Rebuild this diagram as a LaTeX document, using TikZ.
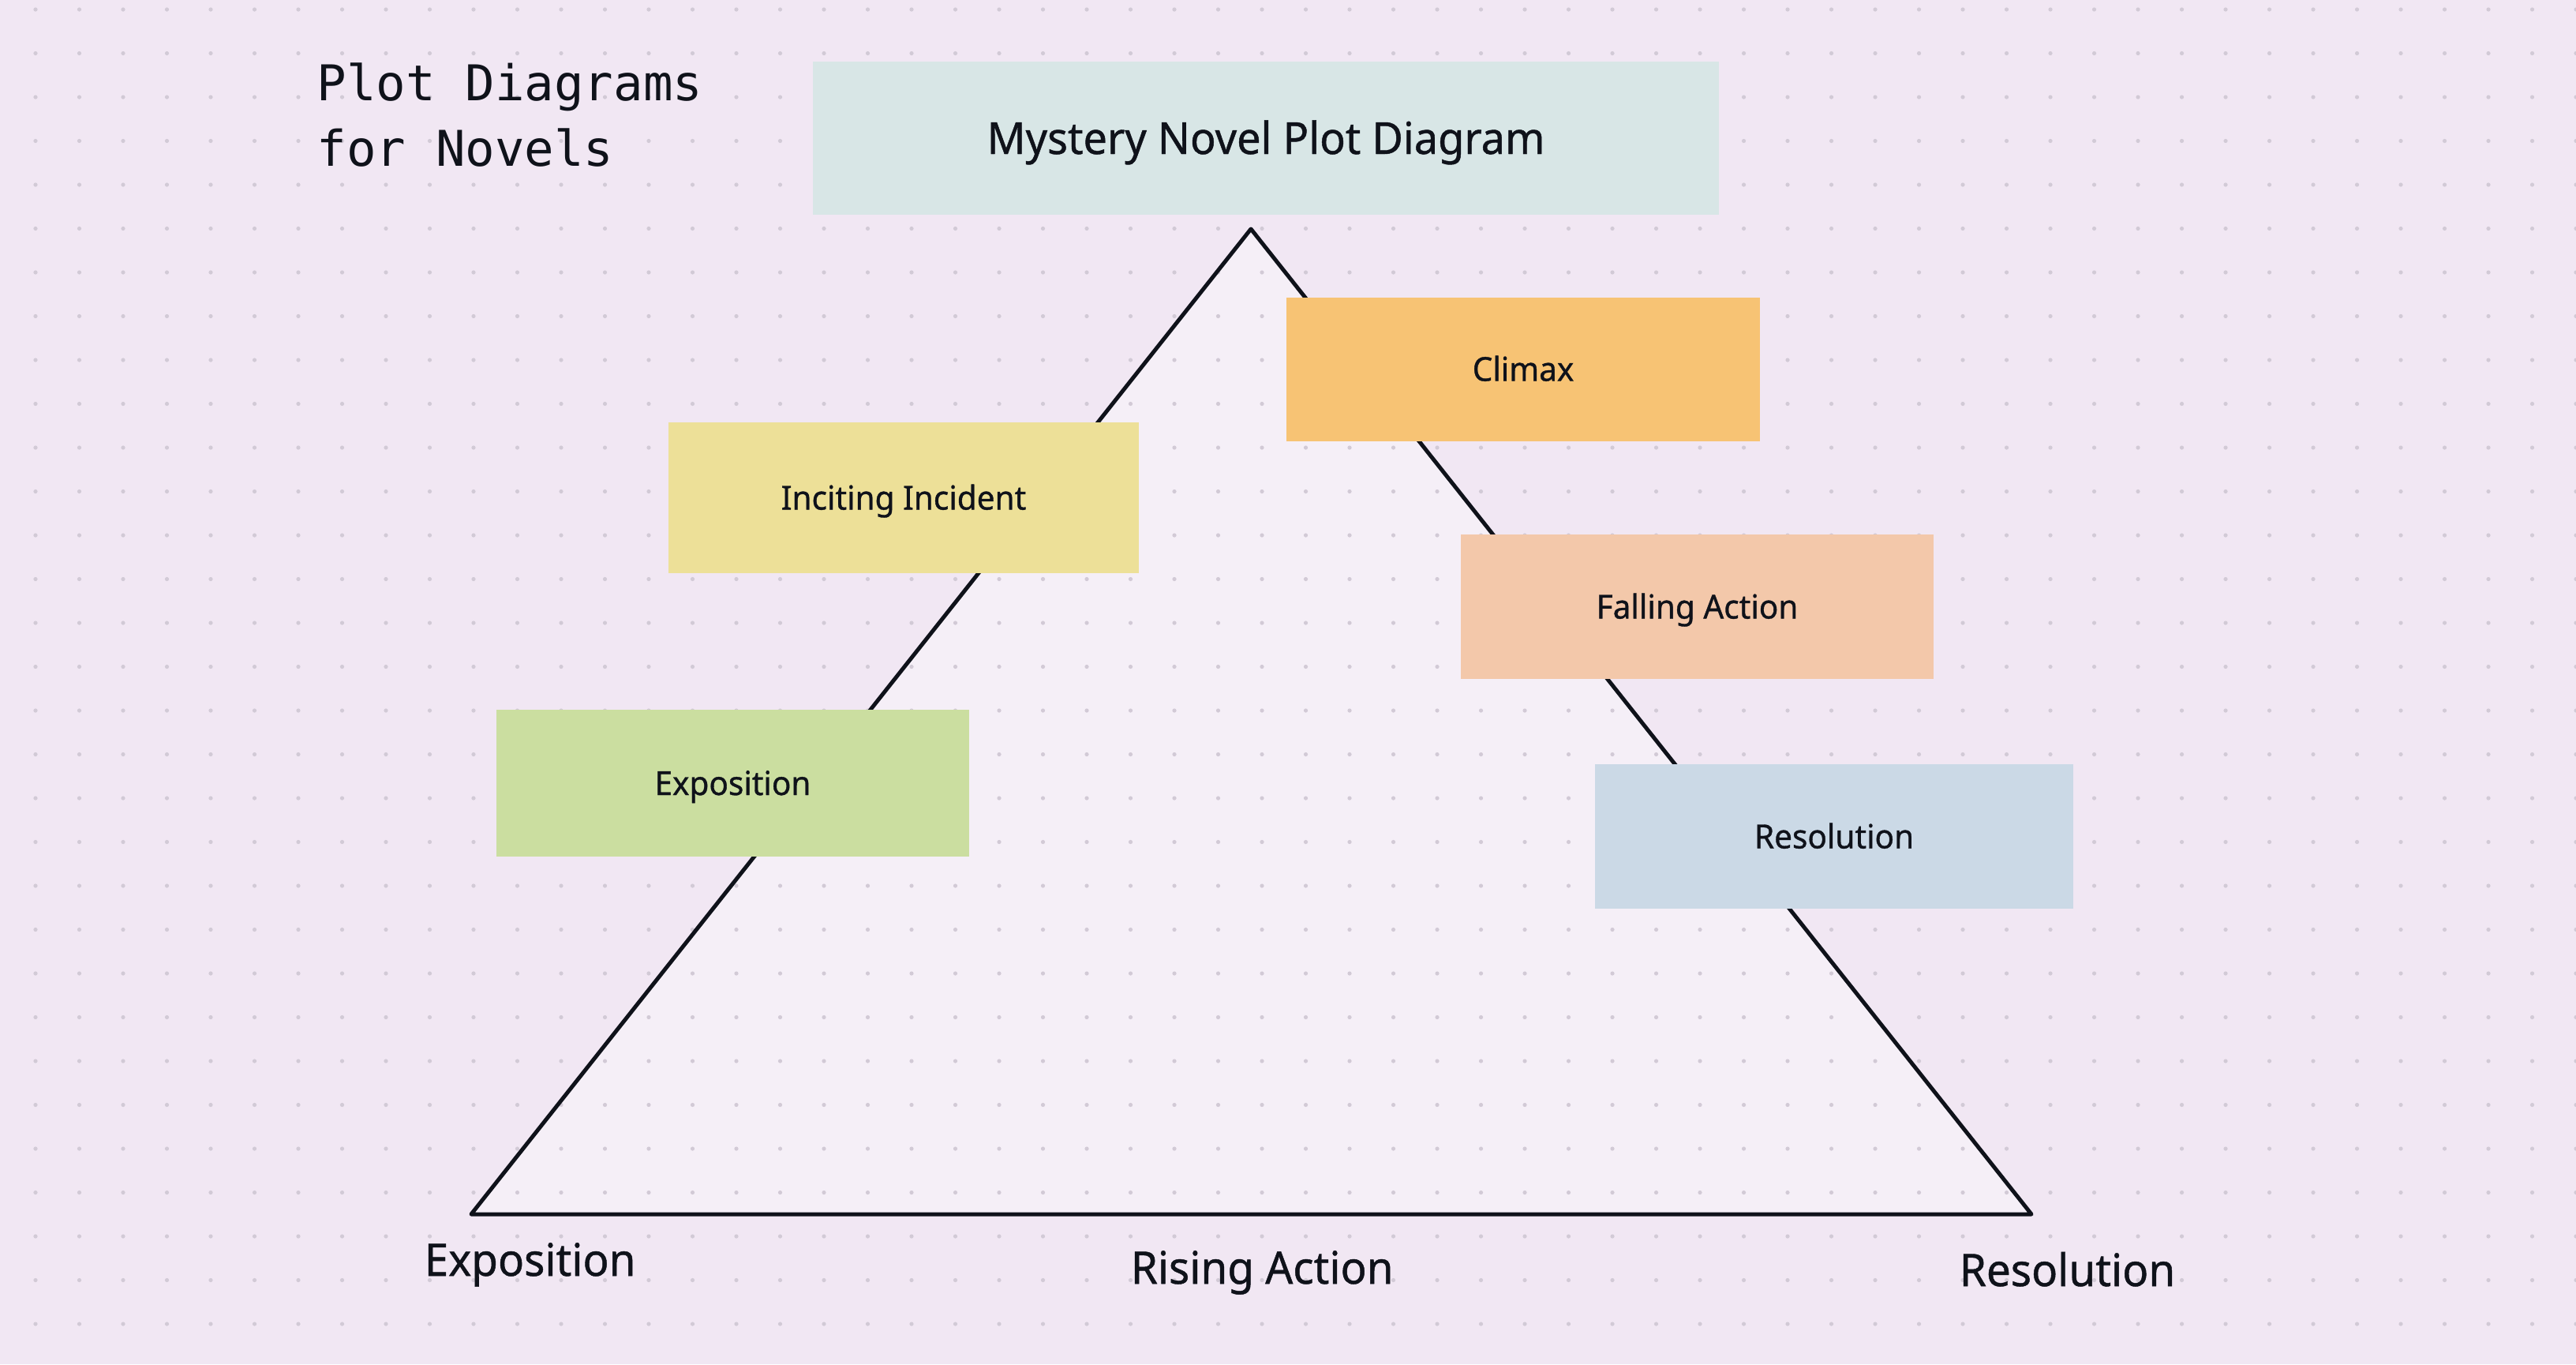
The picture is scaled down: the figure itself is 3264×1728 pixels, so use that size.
\documentclass[tikz,border=0pt]{standalone}
\usepackage{fontspec}
\setmainfont{Noto Sans}[FakeBold=0.8, FakeStretch=0.965]
\newfontfamily\monof{DejaVu Sans Mono}
\definecolor{bgc}{HTML}{F1E7F3}
\definecolor{dotc}{HTML}{D2CAD6}
\definecolor{ink}{HTML}{0F121A}
\definecolor{ctitle}{HTML}{D8E6E6}
\definecolor{cclimax}{HTML}{F7C374}
\definecolor{cincite}{HTML}{EDE098}
\definecolor{cexpo}{HTML}{CBDEA0}
\definecolor{cfall}{HTML}{F3C8AA}
\definecolor{cresol}{HTML}{CBD9E6}
\tikzset{
  pbox/.style={rectangle, inner sep=0pt, draw=none, text=ink, text height=7.5pt, text depth=0pt, font=\fontsize{10.5}{12}\selectfont},
  axislabel/.style={anchor=base west, inner sep=0pt, text=ink, font=\fontsize{14.2}{16}\selectfont},
  monolabel/.style={anchor=base west, inner sep=0pt, text=ink, font=\monof\fontsize{15.6}{18}\selectfont},
}
\begin{document}
\begin{tikzpicture}[x=0.25pt,y=-0.25pt]
\useasboundingbox (0,0) rectangle (3264,1728);
\fill[bgc] (0,0) rectangle (3264,1728);
\coordinate (A) at (1585,290);
\coordinate (L) at (597,1538);
\coordinate (R) at (2574,1538);
\fill[white,opacity=0.35] (A)--(L)--(R)--cycle;
\foreach \i in {0,...,58}{
  \foreach \j in {0,...,30}{
    \fill[dotc] ({45+55.5*\i},{12+55.5*\j}) circle (2.6);
  }
}
\draw[ink, line width=1.25pt, line join=round] (A)--(L)--(R)--cycle;
\node[pbox, fill=ctitle, minimum width=287pt, minimum height=48.5pt, text height=10pt, font=\fontsize{14}{16}\selectfont] (title) at (1604,175) {Mystery Novel Plot Diagram};
\node[pbox, fill=cclimax, minimum width=150pt, minimum height=45.5pt] (climax) at (1930,467.5) {Climax};
\node[pbox, fill=cincite, minimum width=149pt, minimum height=47.75pt] (incite) at (1145,630.5) {Inciting Incident};
\node[pbox, fill=cexpo, minimum width=149.75pt, minimum height=46.5pt] (expo) at (928.5,992) {Exposition};
\node[pbox, fill=cfall, minimum width=149.75pt, minimum height=45.75pt] (fall) at (2150.5,768.5) {Falling Action};
\node[pbox, fill=cresol, minimum width=151.5pt, minimum height=45.75pt] (resol) at (2324,1059.5) {Resolution};
\node[axislabel] (lexpo) at (537,1616) {Exposition};
\node[axislabel] (lrise) at (1432,1626) {Rising Action};
\node[axislabel] (lresol) at (2482,1629) {Resolution};
\node[monolabel] (t1) at (401,127) {Plot Diagrams};
\node[monolabel] (t2) at (401,210) {for Novels};
\end{tikzpicture}
\end{document}
